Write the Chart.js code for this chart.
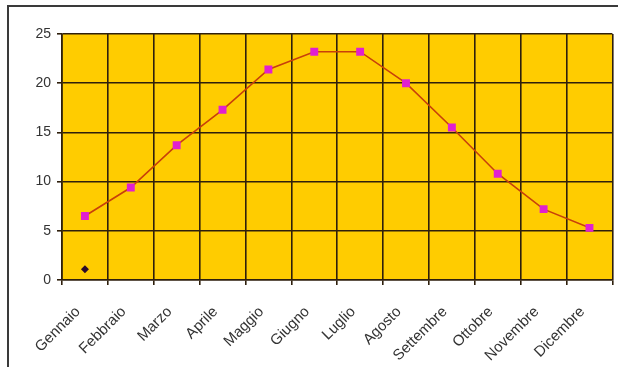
<!DOCTYPE html>
<html>
<head>
<meta charset="utf-8">
<script src="https://cdn.jsdelivr.net/npm/chart.js@4"></script>
<style>
  html, body { margin: 0; padding: 0; background: #ffffff; }
  #wrap { position: relative; width: 618px; height: 367px; overflow: hidden; }
  #frame { position: absolute; left: 7px; top: 5px; width: 700px; height: 500px;
           border: 2px solid #3a3a3a; box-sizing: border-box; pointer-events: none; }
  canvas { position: absolute; left: 0; top: 0; }
</style>
</head>
<body>
<div id="wrap">
  <canvas id="chart" width="618" height="367"></canvas>
  <div id="frame"></div>
</div>
<script>
// Monthly values
const mesi = ['Gennaio', 'Febbraio', 'Marzo', 'Aprile', 'Maggio', 'Giugno',
              'Luglio', 'Agosto', 'Settembre', 'Ottobre', 'Novembre', 'Dicembre'];
const temperature = [6.5, 9.4, 13.7, 17.3, 21.4, 23.2, 23.2, 20.0, 15.5, 10.8, 7.2, 5.3];
const seconda = [1.1, null, null, null, null, null, null, null, null, null, null, null];
const yTicks = [0, 5, 10, 15, 20, 25];

const gridColor = '#2e1f0c';
const fontFamily = '"Liberation Sans", Arial, sans-serif';

// Gold plot background behind the grid
const plotBackground = {
  id: 'plotBackground',
  beforeDraw(chart) {
    const { ctx, chartArea: a } = chart;
    ctx.save();
    ctx.fillStyle = '#ffcc00';
    ctx.fillRect(a.left, a.top, a.right - a.left, a.bottom - a.top);
    ctx.restore();
  }
};

new Chart(document.getElementById('chart'), {
  type: 'line',
  data: {
    labels: mesi,
    datasets: [
      {
        data: temperature,
        borderColor: '#c8400a',
        borderWidth: 1.6,
        pointStyle: 'rect',
        pointRadius: 5.6,
        pointBackgroundColor: '#e020d0',
        pointBorderColor: '#e020d0',
        pointBorderWidth: 0,
        tension: 0,
        fill: false
      },
      {
        data: seconda,
        showLine: false,
        pointStyle: 'rectRot',
        pointRadius: 4,
        pointBackgroundColor: '#2a0a2a',
        pointBorderColor: '#2a0a2a',
        pointBorderWidth: 0
      }
    ]
  },
  options: {
    responsive: false,
    animation: false,
    events: [],
    layout: { padding: { left: 0, top: 34, right: 1, bottom: 0 } },
    plugins: { legend: { display: false }, tooltip: { enabled: false } },
    scales: {
      x: {
        type: 'category',
        offset: true,
        grid: {
          offset: true,
          color: gridColor,
          lineWidth: 1.6,
          drawTicks: true,
          tickLength: 5
        },
        border: { color: gridColor, width: 1.6 },
        ticks: {
          minRotation: 45,
          maxRotation: 45,
          autoSkip: false,
          padding: 18,
          labelOffset: -7,
          color: '#333333',
          font: { family: fontFamily, size: 15 }
        },
        afterFit(scale) {
          scale.height = 87;
          scale.paddingLeft = 0;
          scale.paddingRight = 0;
        }
      },
      y: {
        min: 0,
        max: 25,
        afterBuildTicks(scale) { scale.ticks = yTicks.map(v => ({ value: v })); },
        grid: {
          color: gridColor,
          lineWidth: 1.6,
          drawTicks: true,
          tickLength: 5
        },
        border: { color: gridColor, width: 1.6 },
        ticks: {
          padding: 6,
          color: '#333333',
          font: { family: fontFamily, size: 14 }
        },
        afterFit(scale) {
          scale.width = 62;
          scale.paddingTop = 0;
          scale.paddingBottom = 0;
        }
      }
    }
  },
  plugins: [plotBackground]
});
</script>
</body>
</html>
